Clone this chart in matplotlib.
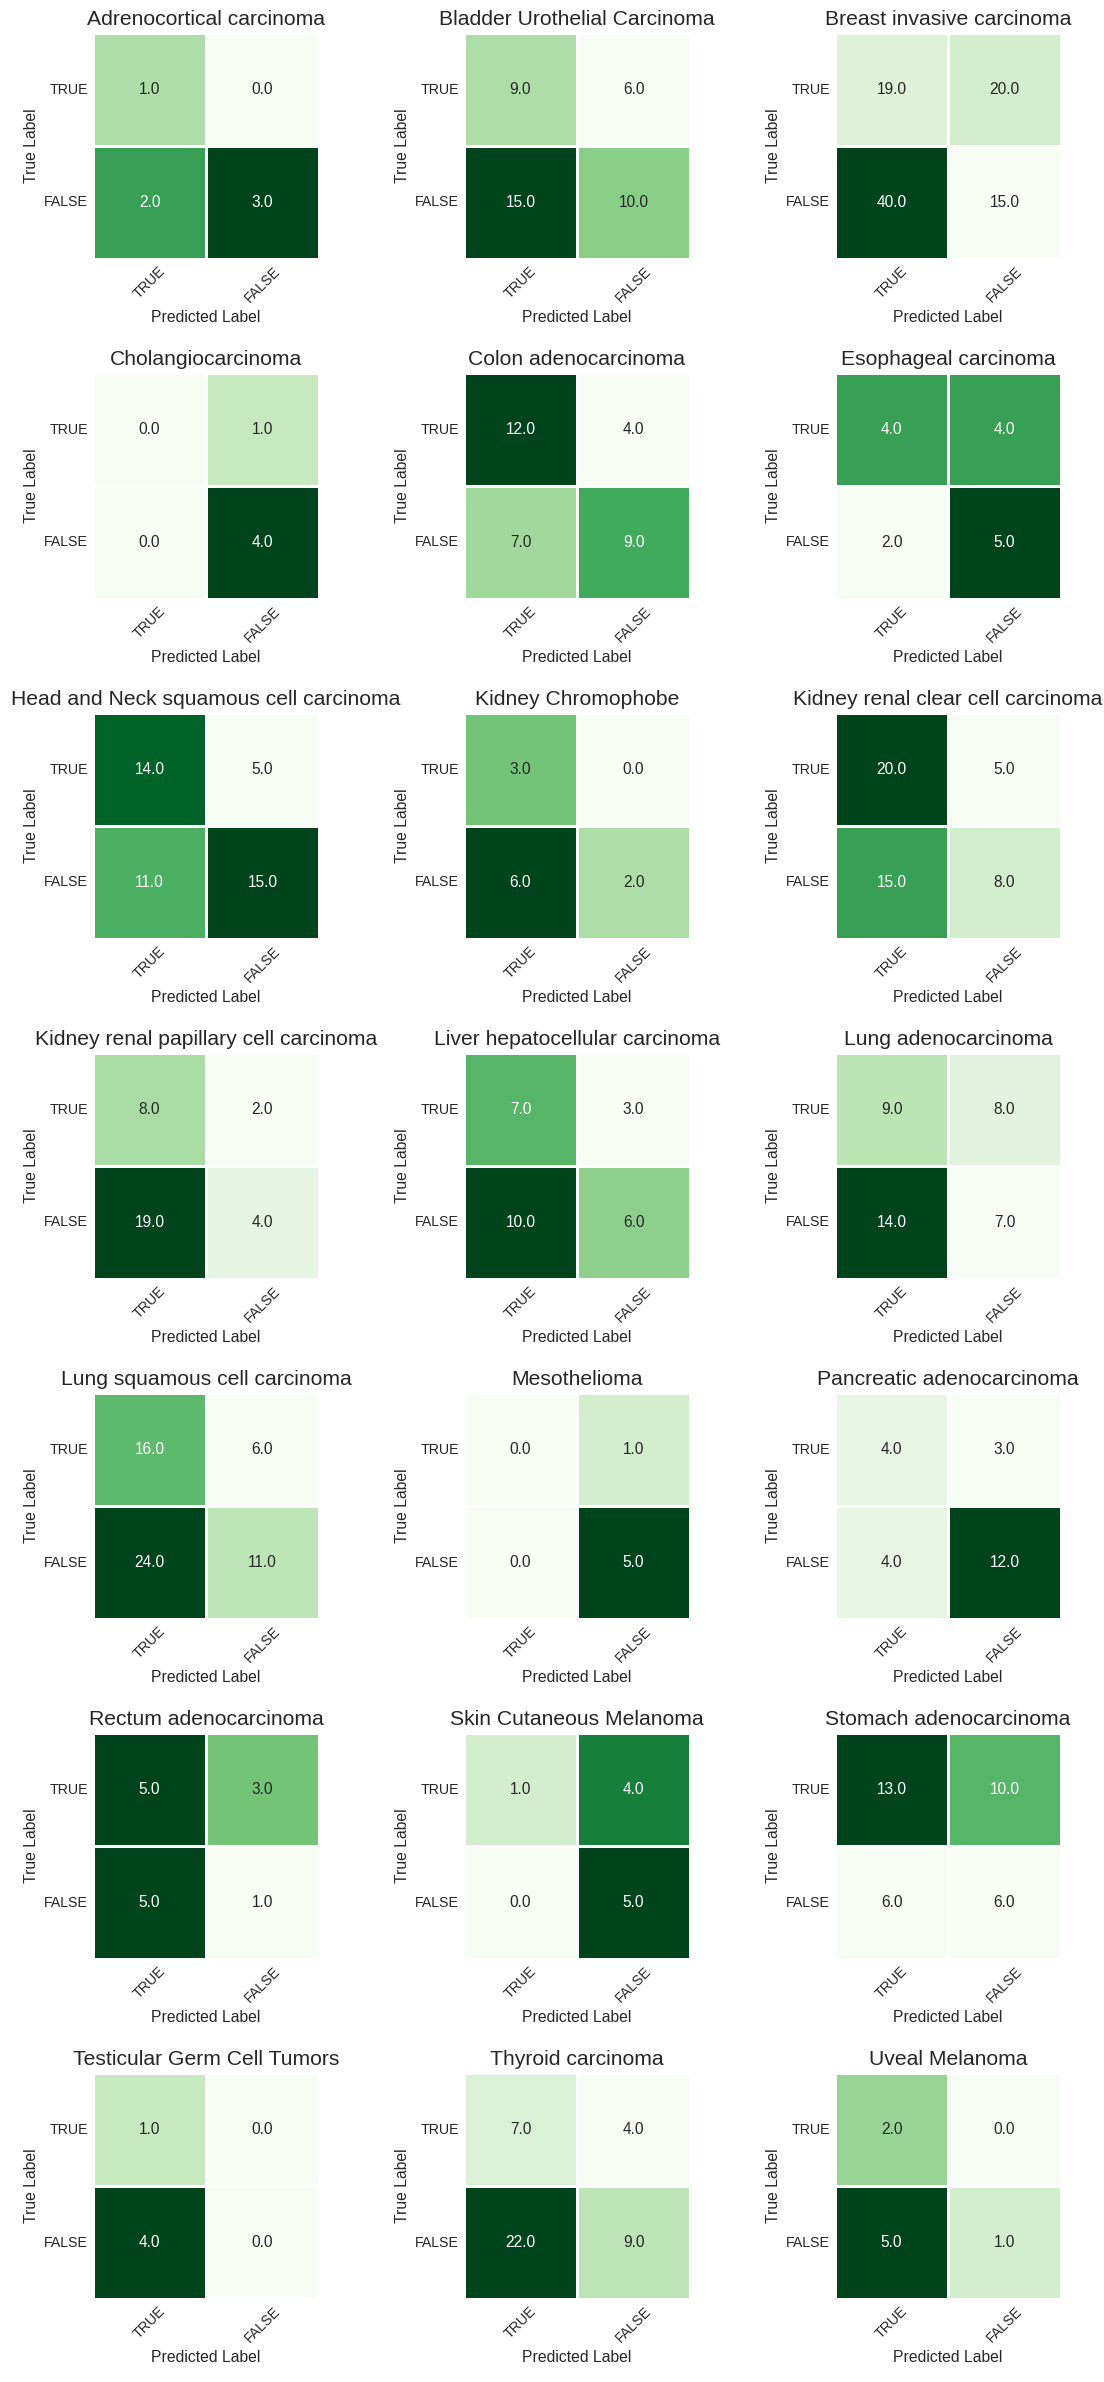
import matplotlib
matplotlib.use("Agg")
import matplotlib.pyplot as plt
import seaborn as sns
import numpy as np

cancer_types = [
    "Adrenocortical carcinoma", "Bladder Urothelial Carcinoma", "Breast invasive carcinoma",
    "Cholangiocarcinoma", "Colon adenocarcinoma", "Esophageal carcinoma",
    "Head and Neck squamous cell carcinoma", "Kidney Chromophobe", "Kidney renal clear cell carcinoma",
    "Kidney renal papillary cell carcinoma", "Liver hepatocellular carcinoma", "Lung adenocarcinoma",
    "Lung squamous cell carcinoma", "Mesothelioma", "Pancreatic adenocarcinoma",
    "Rectum adenocarcinoma", "Skin Cutaneous Melanoma", "Stomach adenocarcinoma",
    "Testicular Germ Cell Tumors", "Thyroid carcinoma", "Uveal Melanoma",
]
# cell values: row TRUE / FALSE (true label), column TRUE / FALSE (predicted)
true_pred_true = [1, 9, 19, 0, 12, 4, 14, 3, 20, 8, 7, 9, 16, 0, 4, 5, 1, 13, 1, 7, 2]
true_pred_false = [0, 6, 20, 1, 4, 4, 5, 0, 5, 2, 3, 8, 6, 1, 3, 3, 4, 10, 0, 4, 0]
false_pred_true = [2, 15, 40, 0, 7, 2, 11, 6, 15, 19, 10, 14, 24, 0, 4, 5, 0, 6, 4, 22, 5]
false_pred_false = [3, 10, 15, 4, 9, 5, 15, 2, 8, 4, 6, 7, 11, 5, 12, 1, 5, 6, 0, 9, 1]
tick_labels = ["TRUE", "FALSE"]

sns.set_style("white")
plt.rcParams['font.family'] = ['Liberation Sans', 'DejaVu Sans']
plt.rcParams['text.color'] = '#262626'
plt.rcParams['axes.labelcolor'] = '#262626'
plt.rcParams['xtick.color'] = '#262626'
plt.rcParams['ytick.color'] = '#262626'

fig, axes = plt.subplots(7, 3, figsize=(11.04, 23.82), dpi=100)
fig.subplots_adjust(left=93/1104, right=1061/1104, top=1-33/2382, bottom=1-2299/2382,
                    wspace=145/226, hspace=114/226)

for i, ax in enumerate(axes.flat):
    cm = np.array([[true_pred_true[i], true_pred_false[i]],
                   [false_pred_true[i], false_pred_false[i]]], dtype=float)
    sns.heatmap(cm, annot=True, fmt=".1f", cmap="Greens", cbar=False,
                linewidths=0.8, linecolor="white", ax=ax,
                xticklabels=tick_labels, yticklabels=tick_labels,
                annot_kws={"fontsize": 11.2})
    ax.set_title(cancer_types[i], fontsize=15.2)
    ax.set_xlabel("Predicted Label", fontsize=11.3)
    ax.set_ylabel("True Label", fontsize=11.3)
    ax.set_xticklabels(tick_labels, rotation=45, ha="center", fontsize=10.2)
    ax.set_yticklabels(tick_labels, rotation=0, fontsize=10.2)
    ax.tick_params(length=0)

fig.savefig("out.png", dpi=100)
